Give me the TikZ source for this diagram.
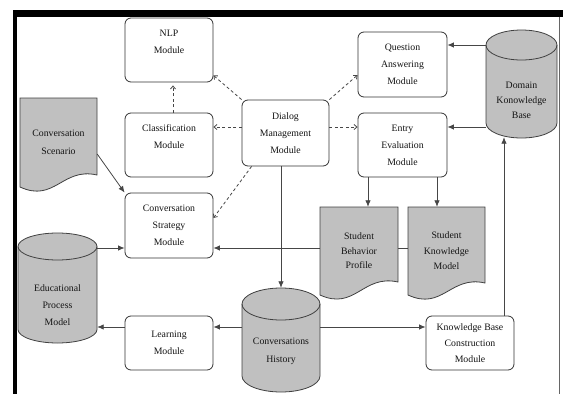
\documentclass[tikz,border=0pt]{standalone}
\usepackage{fontspec}
\setmainfont{Liberation Serif}
\usetikzlibrary{arrows.meta,calc}
\pgfdeclarelayer{background}
\pgfsetlayers{background,main}
\definecolor{docgray}{RGB}{192,192,192}
\definecolor{lnc}{RGB}{70,70,70}
% cylinder: cx cy w h ry (pixel units, y downwards)
\newcommand\dbcyl[5]{%
 \filldraw[shapesty] ({#1-#3/2},{#2-#4/2+#5}) -- ({#1-#3/2},{#2+#4/2-#5})
   arc[start angle=180,end angle=360,x radius={#3/2*1pt},y radius=#5pt]
   -- ({#1+#3/2},{#2-#4/2+#5})
   arc[start angle=0,end angle=180,x radius={#3/2*1pt},y radius=#5pt] -- cycle;
 \draw[shapesty,fill=none] ({#1-#3/2},{#2-#4/2+#5})
   arc[start angle=180,end angle=360,x radius={#3/2*1pt},y radius=#5pt];}
% document: x1 y1 x2 yR yL
\newcommand\docshp[5]{%
 \filldraw[shapesty] (#1,#2) -- (#3,#2) -- (#3,#4)
   .. controls ({#3-0.45*(#3-#1)},{#4-8}) and ({#1+0.45*(#3-#1)},{#5+16}) .. (#1,#5) -- cycle;}
\begin{document}
\begin{tikzpicture}[x=1pt,y=-1pt,
  txt/.style={font=\fontsize{9.8}{17}\selectfont, text=black!92},
  box/.style={txt, draw=black!80, fill=white, rounded corners=6pt, line width=0.8pt,
    align=center, inner sep=0pt},
  frame/.style={inner sep=0pt, draw=none},
  lbl/.style={txt, align=center, inner sep=0pt},
  shapesty/.style={fill=docgray, draw=black!75, line width=0.8pt},
  arr/.style={draw=lnc, line width=0.8pt, -{Latex[length=6.5pt,width=5.5pt]}},
  darr/.style={draw=lnc, line width=0.8pt, dash pattern=on 3pt off 2.5pt,
    -{Straight Barb[length=3pt,width=5pt]}}]
\useasboundingbox (0,0) rectangle (563,394);
% outer frame
\fill[black] (13,10) rectangle (563,16.5);
\fill[black] (13,10) rectangle (17,394);
\draw[black!60, line width=1pt] (559.5,16.5) -- (559.5,394);

% shapes
\docshp{20}{98}{97}{175}{187}
\docshp{320}{207}{398}{282}{295}
\docshp{408}{207}{485}{283}{295}
\dbcyl{57.5}{288}{79}{110}{13.5}
\dbcyl{281}{340}{78}{104}{16}
\dbcyl{521.5}{84}{71}{108}{15}

% rounded boxes
\node[box, minimum width=88, minimum height=64] (nlp) at (169,50) {NLP\\Module\\\phantom{M}};
\node[box, minimum width=88, minimum height=64] (class) at (169,145) {Classification\\Module\\\phantom{M}};
\node[box, minimum width=88, minimum height=65] (strat) at (169,225.5) {Conversation\\Strategy\\Module};
\node[box, minimum width=88, minimum height=54] (learn) at (169,343) {Learning\\Module};
\node[box, minimum width=87, minimum height=66] (dialog) at (285.5,133) {Dialog\\Management\\Module};
\node[box, minimum width=89, minimum height=65] (qa) at (402.5,64.5) {Question\\Answering\\Module};
\node[box, minimum width=89, minimum height=64] (ee) at (402.5,145) {Entry\\Evaluation\\Module};
\node[box, minimum width=88, minimum height=54, font=\fontsize{9.8}{16}\selectfont] (kbc) at (470,343) {Knowledge Base\\Construction\\Module};

% documents
\node[lbl, minimum width=77, minimum height=89, font=\fontsize{9.8}{18}\selectfont] (cs) at (58.5,142.5) {Conversation\\Scenario};
\node[lbl, minimum width=78, minimum height=88, font=\fontsize{9.8}{14.5}\selectfont] (sbp) at (359,251) {Student\\Behavior\\Profile};
\node[lbl, minimum width=77, minimum height=88, font=\fontsize{9.8}{15.5}\selectfont] (skm) at (446.5,251) {Student\\Knowledge\\Model};

% cylinders
\node[frame, minimum width=79, minimum height=110] (epm) at (57.5,288) {};
\node[lbl, font=\fontsize{9.8}{17}\selectfont] (epmt) at ([yshift=-17pt]epm.center) {Educational\\Process\\Model};
\node[frame, minimum width=78, minimum height=104] (ch) at (281,340) {};
\node[lbl, font=\fontsize{9.8}{18}\selectfont] (cht) at ([yshift=-11pt]ch.center) {Conversations\\History};
\node[frame, minimum width=71, minimum height=108] (dkb) at (521.5,84) {};
\node[lbl, font=\fontsize{9.8}{15}\selectfont] (dkbt) at ([yshift=-16pt]dkb.center) {Domain\\Konowledge\\Base};

% dashed connectors from the dialog module
\draw[darr] (dialog.north west) -- ([yshift=7pt]nlp.south east);
\draw[darr] ([xshift=4pt]class.north) -- ([xshift=4pt,yshift=-3pt]nlp.south);
\coordinate (dl) at ([yshift=6pt]dialog.west);
\draw[darr] (dl) -- (dl -| class.east);
\coordinate (dr) at ([yshift=6pt]dialog.east);
\draw[darr] (dr) -- (dr -| ee.west);
\draw[darr] ([xshift=10pt]dialog.south west) -- ([yshift=7.5pt]strat.east);
\draw[darr] (dialog.north east) -- ([yshift=-10.5pt]qa.west);

% solid connectors
\draw[arr] (ch.north |- dialog.south) -- (ch.north);
\coordinate (qay) at ([yshift=19.5pt]qa.east);
\draw[arr] (qay -| dkb.west) -- (qay);
\coordinate (eey) at ([yshift=18pt]ee.east);
\draw[arr] (eey -| dkb.west) -- (eey);
\coordinate (e1) at ([xshift=-34.5pt]ee.south);
\draw[arr] (e1) -- (e1 |- sbp.north);
\coordinate (e2) at ([xshift=34.5pt]ee.south);
\draw[arr] (e2) -- (e2 |- skm.north);
\draw[arr] ([yshift=-11.5pt]cs.east) -- (strat.north west);
\coordinate (sy) at ([yshift=-22.5pt]strat.west);
\draw[arr] (sy -| epm.east) -- (sy);
\begin{pgfonlayer}{background}
\draw[arr] (sy -| skm.west) -- (sy -| strat.east);
\end{pgfonlayer}
\coordinate (ly) at ([yshift=16pt]learn.east);
\draw[arr] (ly -| ch.west) -- (ly);
\draw[arr] ([yshift=16pt]learn.west) -- (ly -| epm.east);
\draw[arr] (ly -| ch.east) -- (ly -| kbc.west);
\coordinate (k1) at ([xshift=34pt]kbc.north);
\draw[arr, shorten >=-1pt] (k1) -- (k1 |- dkb.south);
\end{tikzpicture}
\end{document}
